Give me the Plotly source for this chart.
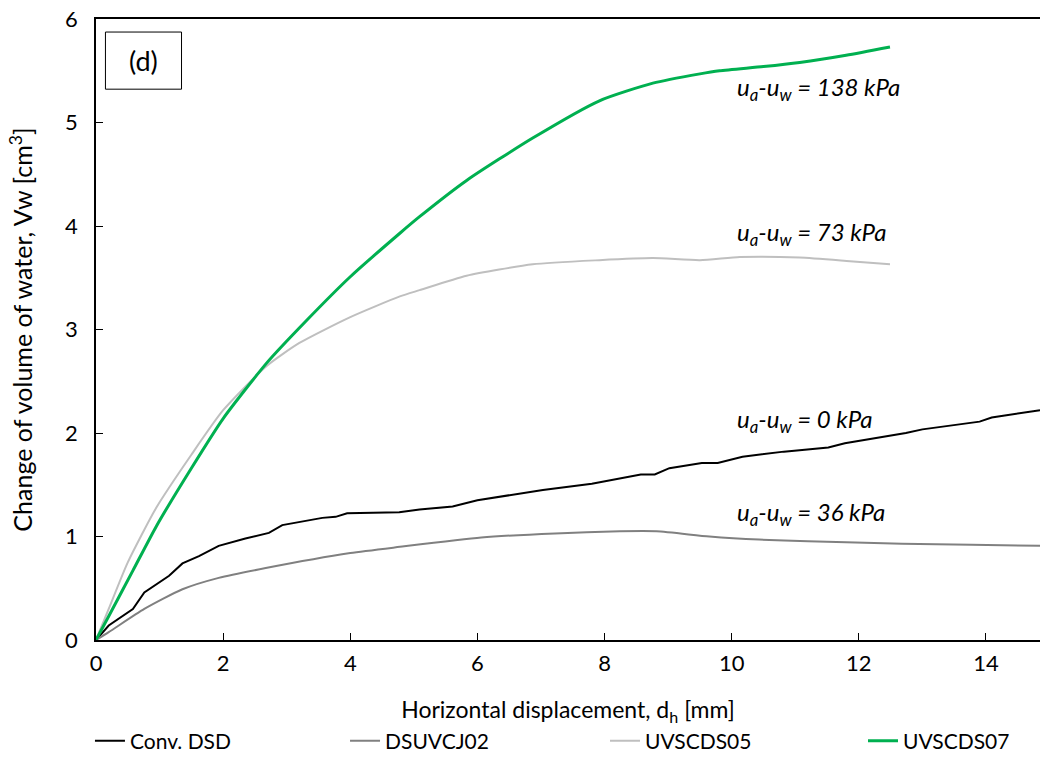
import plotly.graph_objects as go

# Conv. DSD (ua-uw = 0 kPa)
conv_x = [0, 0.2, 0.58, 0.76, 1.15, 1.36, 1.62, 1.93, 2.35, 2.72, 2.93, 3.56, 3.77, 3.95, 4.77,
          5.09, 5.61, 6.0, 7.03, 7.8, 8.57, 8.79, 9.02, 9.53, 9.78, 10.17, 10.82, 11.52, 11.78,
          12.29, 12.74, 13.0, 13.9, 14.09, 14.85]
conv_y = [0, 0.14, 0.30, 0.46, 0.62, 0.74, 0.81, 0.91, 0.98, 1.035, 1.11, 1.18, 1.19, 1.225, 1.235,
          1.26, 1.29, 1.35, 1.45, 1.51, 1.60, 1.60, 1.66, 1.71, 1.71, 1.77, 1.82, 1.86, 1.90,
          1.95, 2.0, 2.035, 2.11, 2.15, 2.22]

# DSUVCJ02 (ua-uw = 36 kPa)
dsu_x = [0, 0.2, 0.76, 1.36, 1.93, 2.67, 4.0, 4.78, 6.06, 7.22, 8.24, 8.82, 9.65, 10.43, 11.2,
         12.68, 13.77, 14.85]
dsu_y = [0, 0.076, 0.30, 0.49, 0.60, 0.695, 0.84, 0.90, 0.99, 1.03, 1.05, 1.05, 1.0, 0.97, 0.955,
         0.93, 0.92, 0.91]

# UVSCDS05 (ua-uw = 73 kPa)
u05_x = [0, 0.2, 0.5, 0.95, 1.5, 2.0, 2.69, 3.2, 4.0, 4.78, 5.09, 5.83, 6.87, 7.92, 8.76, 9.5,
         10.13, 11.07, 11.86, 12.49]
u05_y = [0, 0.3, 0.75, 1.28, 1.79, 2.22, 2.65, 2.87, 3.12, 3.32, 3.38, 3.52, 3.63, 3.67, 3.69, 3.67,
         3.70, 3.695, 3.66, 3.63]

# UVSCDS07 (ua-uw = 138 kPa)
u07_x = [0, 0.2, 0.58, 0.95, 1.5, 2.0, 2.69, 3.3, 4.0, 4.78, 5.09, 5.83, 6.87, 7.92, 8.76, 9.5,
         9.81, 10.5, 11.07, 11.8, 12.49]
u07_y = [0, 0.23, 0.67, 1.10, 1.66, 2.14, 2.68, 3.08, 3.51, 3.93, 4.09, 4.44, 4.85, 5.21, 5.38, 5.47,
         5.50, 5.54, 5.58, 5.65, 5.73]

labels = ["u<sub>a</sub>-u<sub>w</sub> = 138 kPa", "u<sub>a</sub>-u<sub>w</sub> = 73 kPa",
          "u<sub>a</sub>-u<sub>w</sub> = 0 kPa", "u<sub>a</sub>-u<sub>w</sub> = 36 kPa"]
label_x = [10.05, 10.05, 10.05, 10.05]
label_y = [5.33, 3.93, 2.12, 1.22]

FONT = "Lato"
BLACK = "#000000"

fig = go.Figure()
fig.add_trace(go.Scatter(x=conv_x, y=conv_y, mode="lines", name="Conv. DSD", legend="legend",
                         line=dict(color="#000000", width=2)))
fig.add_trace(go.Scatter(x=dsu_x, y=dsu_y, mode="lines", name="DSUVCJ02", legend="legend2",
                         line=dict(color="#808080", width=2, shape="spline", smoothing=0.6)))
fig.add_trace(go.Scatter(x=u05_x, y=u05_y, mode="lines", name="UVSCDS05", legend="legend3",
                         line=dict(color="#bfbfbf", width=2, shape="spline", smoothing=0.6)))
fig.add_trace(go.Scatter(x=u07_x, y=u07_y, mode="lines", name="UVSCDS07", legend="legend4",
                         line=dict(color="#00b050", width=3, shape="spline", smoothing=0.6)))

for t, x, y in zip(labels, label_x, label_y):
    fig.add_annotation(x=x, y=y, xref="x", yref="y", text="<i>" + t + "</i>",
                       showarrow=False, xanchor="left", yanchor="middle",
                       font=dict(family=FONT, size=24, color=BLACK))

fig.add_shape(type="rect", xref="paper", yref="paper", x0=0.010, x1=0.0906, y0=0.887, y1=0.979,
              line=dict(color=BLACK, width=1), fillcolor="white")
fig.add_annotation(xref="paper", yref="paper", x=0.0503, y=0.933, text="(d)", showarrow=False,
                   xanchor="center", yanchor="middle",
                   font=dict(family=FONT, size=27, color=BLACK))

leg_common = dict(orientation="h", y=-0.163, xanchor="left", yanchor="middle",
                  font=dict(family=FONT, size=21, color=BLACK), bgcolor="rgba(0,0,0,0)",
                  borderwidth=0)
leg_x = [-0.0064, 0.2638, 0.5392, 0.8125]

fig.update_layout(
    width=1040, height=762,
    margin=dict(l=96, r=0, t=19, b=114),
    paper_bgcolor="white", plot_bgcolor="white",
    font=dict(family=FONT, size=20, color=BLACK),
    showlegend=True,
    legend=dict(x=leg_x[0], **leg_common),
    legend2=dict(x=leg_x[1], **leg_common),
    legend3=dict(x=leg_x[2], **leg_common),
    legend4=dict(x=leg_x[3], **leg_common),
)
fig.update_xaxes(range=[0, 14.85], tickvals=[0, 2, 4, 6, 8, 10, 12, 14],
                 ticks="inside", ticklen=7, tickcolor=BLACK, showgrid=False, zeroline=False,
                 showline=True, linecolor=BLACK, linewidth=1.5, mirror=True,
                 tickfont=dict(family=FONT, size=22), automargin=False, ticklabelstandoff=3,
                 ticklabeloverflow="allow",
                 title=dict(text="Horizontal displacement, d<sub>h</sub> [mm]",
                            font=dict(family=FONT, size=23), standoff=27))
fig.update_yaxes(range=[0, 6], tickvals=[0, 1, 2, 3, 4, 5, 6],
                 ticks="inside", ticklen=7, tickcolor=BLACK, showgrid=False, zeroline=False,
                 showline=True, linecolor=BLACK, linewidth=1.5, mirror=False,
                 tickfont=dict(family=FONT, size=22), automargin=False, ticklabelstandoff=12,
                 ticklabeloverflow="allow",
                 title=dict(text="Change of volume of water, Vw [cm<sup>3</sup>]",
                            font=dict(family=FONT, size=25), standoff=25))

fig.write_html("out.html", config={"displayModeBar": False},
               post_script="document.body.style.margin='0px';")
